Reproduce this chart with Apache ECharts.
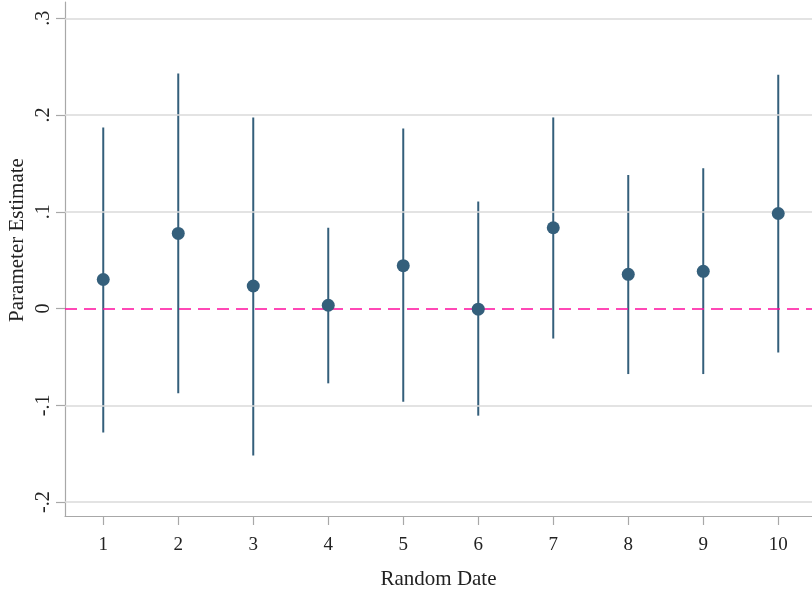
<!DOCTYPE html>
<html>
<head>
<meta charset="utf-8">
<script src="https://cdn.jsdelivr.net/npm/echarts@6/dist/echarts.min.js"></script>
<style>html,body{margin:0;padding:0;background:#fff}#c{width:812px;height:595px}</style>
</head>
<body>
<div id="c"></div>
<script>
var dates = [1, 2, 3, 4, 5, 6, 7, 8, 9, 10];
var estimates = [0.030, 0.0776, 0.0233, 0.0034, 0.0443, -0.0007, 0.0835, 0.0354, 0.0385, 0.0982];
var ciLower = [-0.128, -0.0876, -0.152, -0.0773, -0.0963, -0.1107, -0.031, -0.0677, -0.0677, -0.0454];
var ciUpper = [0.187, 0.243, 0.1975, 0.0835, 0.186, 0.1106, 0.1975, 0.138, 0.145, 0.2415];
var yTicks = [-0.2, -0.1, 0, 0.1, 0.2, 0.3];
var gridValues = [-0.2, -0.1, 0.1, 0.2, 0.3];
var xTitle = 'Random Date';
var yTitle = 'Parameter Estimate';

var FONT = '"Liberation Serif", "DejaVu Serif", serif';
var COL = '#345f7b';
function fmt(v) {
  var r = Math.round(v * 10) / 10;
  if (r === 0) return '0';
  var s = String(r);
  return s.replace('0.', '.');
}
var chart = echarts.init(document.getElementById('c'), null, {renderer: 'canvas'});
var ciData = dates.map(function (d, i) { return [d, ciLower[i], ciUpper[i]]; });
var ptData = dates.map(function (d, i) { return [d, estimates[i]]; });
chart.setOption({
  animation: false,
  backgroundColor: '#fff',
  grid: {left: 65, right: 0, top: 2, bottom: 78},
  xAxis: {
    type: 'value', min: 0.49, max: 10.45,
    axisLine: {show: true, onZero: false, lineStyle: {color: '#a8a8a8', width: 1.2}},
    axisTick: {show: true, length: 9, customValues: dates, lineStyle: {color: '#a8a8a8', width: 1.2}},
    axisLabel: {customValues: dates, margin: 20, fontFamily: FONT, fontSize: 19, color: '#222'},
    splitLine: {show: false},
    name: xTitle, nameLocation: 'middle', nameGap: 53,
    nameTextStyle: {fontFamily: FONT, fontSize: 21, color: '#222'}
  },
  yAxis: {
    type: 'value', min: -0.2144, max: 0.3168,
    axisLine: {show: true, onZero: false, lineStyle: {color: '#a8a8a8', width: 1.2}},
    axisTick: {show: true, length: 9, customValues: yTicks, lineStyle: {color: '#a8a8a8', width: 1.2}},
    axisLabel: {customValues: yTicks, rotate: 90, margin: 11, fontFamily: FONT, fontSize: 20, color: '#222', formatter: fmt},
    splitLine: {show: false}
  },
  graphic: [{
    type: 'text', x: 17, y: 240,
    rotation: Math.PI / 2,
    style: {text: yTitle, font: '21px ' + FONT, fill: '#222', align: 'center', verticalAlign: 'middle'}
  }],
  series: [
    {
      type: 'line', data: [], silent: true,
      markLine: {
        silent: true, symbol: ['none', 'none'], label: {show: false},
        lineStyle: {color: '#dadada', width: 1.5, type: 'solid'},
        data: gridValues.map(function (v) { return {yAxis: v}; })
      }
    },
    {
      type: 'line', data: [], silent: true, z: 3,
      markLine: {
        silent: true, symbol: ['none', 'none'], label: {show: false},
        lineStyle: {color: '#ff0d9e', width: 1.5, type: [12, 7]},
        data: [{yAxis: 0}]
      }
    },
    {
      type: 'custom', z: 4,
      data: ciData,
      renderItem: function (params, api) {
        var p1 = api.coord([api.value(0), api.value(1)]);
        var p2 = api.coord([api.value(0), api.value(2)]);
        return {type: 'line', shape: {x1: p1[0], y1: p1[1], x2: p2[0], y2: p2[1]},
          style: {stroke: COL, lineWidth: 2}};
      }
    },
    {
      type: 'scatter', z: 5, data: ptData, symbol: 'circle', symbolSize: 13,
      itemStyle: {color: COL, opacity: 1}
    }
  ]
});
</script>
</body>
</html>
